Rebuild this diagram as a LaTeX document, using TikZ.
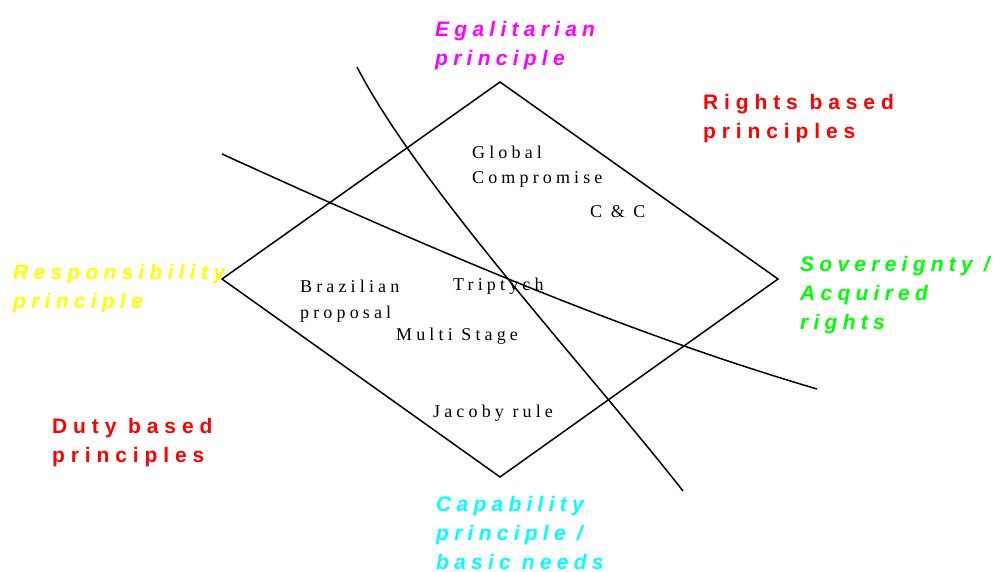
\documentclass[tikz,border=0pt]{standalone}
\usepackage{fontspec}
\newfontfamily\labfont[LetterSpace=25]{Liberation Sans}
\newfontfamily\redfont[LetterSpace=28]{Liberation Sans}
\newfontfamily\itemfont[LetterSpace=23]{Liberation Serif}
\definecolor{cmag}{RGB}{255,0,255}
\definecolor{cred}{RGB}{255,0,0}
\definecolor{cyel}{RGB}{255,255,0}
\definecolor{cgrn}{RGB}{0,255,0}
\definecolor{ccya}{RGB}{0,255,255}
\begin{document}
\begin{tikzpicture}[x=1pt,y=-1pt,
  principle/.style={anchor=base west,inner sep=0pt,align=left,
    font=\labfont\bfseries\itshape\fontsize{21}{29}\selectfont},
  basis/.style={anchor=base west,inner sep=0pt,align=left,text=cred,
    font=\redfont\bfseries\fontsize{21}{29}\selectfont},
  approach/.style={anchor=base west,inner sep=0pt,align=left,
    font=\itemfont\fontsize{18}{25.5}\selectfont},
  edge/.style={line width=1.5pt,black}]
\useasboundingbox (0,0) rectangle (1001,572);
% diamond
\coordinate (top) at (500,82);
\coordinate (right) at (778,279);
\coordinate (bottom) at (500,477);
\coordinate (left) at (222,279);
\draw[edge,line join=miter] (top) -- (right) -- (bottom) -- (left) -- cycle;
% curves
\coordinate (c1s) at (357,67);
\coordinate (c1e) at (683,491);
\draw[edge] (c1s) .. controls (419,187) and (589,371) .. (c1e);
\coordinate (c2s) at (222,154);
\coordinate (c2e) at (817,389);
\draw[edge] (c2s) .. controls (422,245) and (617,330) .. (c2e);
% principle labels (anchored at the baseline of the last line)
\node[principle,text=cmag] (egal) at (435,66) {Egalitarian\\principle};
\node[basis] (rights) at (703,139) {Rights based\\principles};
\node[principle,text=cyel] (resp) at (13,308) {Responsibility\\principle};
\node[principle,text=cgrn] (sov) at (800,329) {Sovereignty /\\Acquired\\rights};
\node[basis] (duty) at (52,462) {Duty based\\principles};
\node[principle,text=ccya] (cap) at (436,569) {Capability\\principle /\\basic needs};
% approaches
\node[approach] (global) at (472,184) {Global\\Compromise};
\node[approach] (cc) at (590,218) {C \& C};
\node[approach] (trip) at (453,290) {Triptych};
\node[approach] (braz) at (300,318) {Brazilian\\proposal};
\node[approach] (multi) at (396,340) {Multi Stage};
\node[approach] (jac) at (433,417) {Jacoby rule};
\end{tikzpicture}
\end{document}
